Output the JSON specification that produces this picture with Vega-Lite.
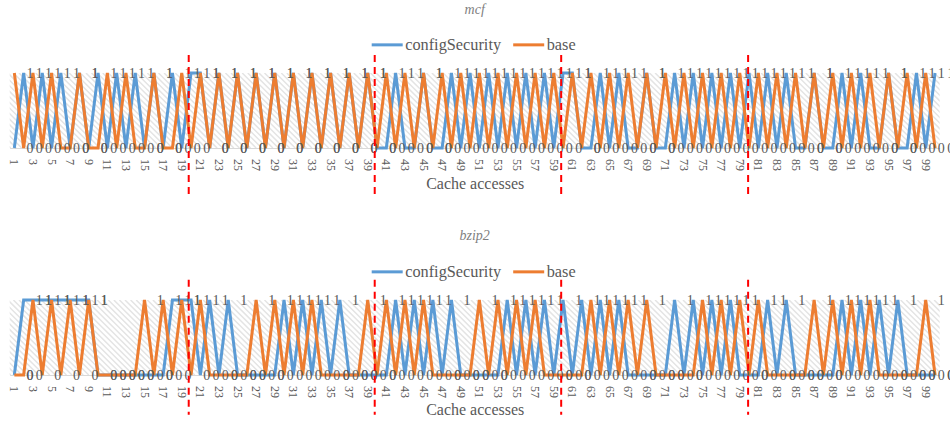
{"$schema":"https://vega.github.io/schema/vega-lite/v6.json","background":"white","padding":{"left":7.7,"top":2,"right":0,"bottom":0},"spacing":32,
"config":{"view":{"stroke":null},"font":"Liberation Serif","title":{"font":"Liberation Serif","fontStyle":"italic","fontWeight":"normal","fontSize":14,"color":"#7f7f7f"},"axisX":{"labels":false,"titleFont":"Liberation Serif","ticks":false,"grid":false,"domainColor":"#d9d9d9","titleFontSize":16,"titleFontWeight":"normal","titleColor":"#595959","titlePadding":27},"legend":{"labelFont":"Liberation Serif"}},
"resolve":{"scale":{"color":"independent"}},
"datasets":{
"ticks":[{"t":1},{"t":3},{"t":5},{"t":7},{"t":9},{"t":11},{"t":13},{"t":15},{"t":17},{"t":19},{"t":21},{"t":23},{"t":25},{"t":27},{"t":29},{"t":31},{"t":33},{"t":35},{"t":37},{"t":39},{"t":41},{"t":43},{"t":45},{"t":47},{"t":49},{"t":51},{"t":53},{"t":55},{"t":57},{"t":59},{"t":61},{"t":63},{"t":65},{"t":67},{"t":69},{"t":71},{"t":73},{"t":75},{"t":77},{"t":79},{"t":81},{"t":83},{"t":85},{"t":87},{"t":89},{"t":91},{"t":93},{"t":95},{"t":97},{"t":99}],
"hatch":[{"a":-8.1,"b":0},{"a":-7.5,"b":0.6},{"a":-6.9,"b":1.2},{"a":-6.3,"b":1.8},{"a":-5.7,"b":2.4},{"a":-5.1,"b":3},{"a":-4.5,"b":3.6},{"a":-3.9,"b":4.2},{"a":-3.3,"b":4.8},{"a":-2.7,"b":5.4},{"a":-2.1,"b":6},{"a":-1.5,"b":6.6},{"a":-0.9,"b":7.2},{"a":-0.3,"b":7.8},{"a":0.3,"b":8.4},{"a":0.9,"b":9},{"a":1.5,"b":9.6},{"a":2.1,"b":10.2},{"a":2.7,"b":10.8},{"a":3.3,"b":11.4},{"a":3.9,"b":12},{"a":4.5,"b":12.6},{"a":5.1,"b":13.2},{"a":5.7,"b":13.8},{"a":6.3,"b":14.4},{"a":6.9,"b":15},{"a":7.5,"b":15.6},{"a":8.1,"b":16.2},{"a":8.7,"b":16.8},{"a":9.3,"b":17.4},{"a":9.9,"b":18},{"a":10.5,"b":18.6},{"a":11.1,"b":19.2},{"a":11.7,"b":19.8},{"a":12.3,"b":20.4},{"a":12.9,"b":21},{"a":13.5,"b":21.6},{"a":14.1,"b":22.2},{"a":14.7,"b":22.8},{"a":15.3,"b":23.4},{"a":15.9,"b":24},{"a":16.5,"b":24.6},{"a":17.1,"b":25.2},{"a":17.7,"b":25.8},{"a":18.3,"b":26.4},{"a":18.9,"b":27},{"a":19.5,"b":27.6},{"a":20.1,"b":28.2},{"a":20.7,"b":28.8},{"a":21.3,"b":29.4},{"a":21.9,"b":30},{"a":22.5,"b":30.6},{"a":23.1,"b":31.2},{"a":23.7,"b":31.8},{"a":24.3,"b":32.4},{"a":24.9,"b":33},{"a":25.5,"b":33.6},{"a":26.1,"b":34.2},{"a":26.7,"b":34.8},{"a":27.3,"b":35.4},{"a":27.9,"b":36},{"a":28.5,"b":36.6},{"a":29.1,"b":37.2},{"a":29.7,"b":37.8},{"a":30.3,"b":38.4},{"a":30.9,"b":39},{"a":31.5,"b":39.6},{"a":32.1,"b":40.2},{"a":32.7,"b":40.8},{"a":33.3,"b":41.4},{"a":33.9,"b":42},{"a":34.5,"b":42.6},{"a":35.1,"b":43.2},{"a":35.7,"b":43.8},{"a":36.3,"b":44.4},{"a":36.9,"b":45},{"a":37.5,"b":45.6},{"a":38.1,"b":46.2},{"a":38.7,"b":46.8},{"a":39.3,"b":47.4},{"a":39.9,"b":48},{"a":40.5,"b":48.6},{"a":41.1,"b":49.2},{"a":41.7,"b":49.8},{"a":42.3,"b":50.4},{"a":42.9,"b":51},{"a":43.5,"b":51.6},{"a":44.1,"b":52.2},{"a":44.7,"b":52.8},{"a":45.3,"b":53.4},{"a":45.9,"b":54},{"a":46.5,"b":54.6},{"a":47.1,"b":55.2},{"a":47.7,"b":55.8},{"a":48.3,"b":56.4},{"a":48.9,"b":57},{"a":49.5,"b":57.6},{"a":50.1,"b":58.2},{"a":50.7,"b":58.8},{"a":51.3,"b":59.4},{"a":51.9,"b":60},{"a":52.5,"b":60.6},{"a":53.1,"b":61.2},{"a":53.7,"b":61.8},{"a":54.3,"b":62.4},{"a":54.9,"b":63},{"a":55.5,"b":63.6},{"a":56.1,"b":64.2},{"a":56.7,"b":64.8},{"a":57.3,"b":65.4},{"a":57.9,"b":66},{"a":58.5,"b":66.6},{"a":59.1,"b":67.2},{"a":59.7,"b":67.8},{"a":60.3,"b":68.4},{"a":60.9,"b":69},{"a":61.5,"b":69.6},{"a":62.1,"b":70.2},{"a":62.7,"b":70.8},{"a":63.3,"b":71.4},{"a":63.9,"b":72},{"a":64.5,"b":72.6},{"a":65.1,"b":73.2},{"a":65.7,"b":73.8},{"a":66.3,"b":74.4},{"a":66.9,"b":75},{"a":67.5,"b":75.6},{"a":68.1,"b":76.2},{"a":68.7,"b":76.8},{"a":69.3,"b":77.4},{"a":69.9,"b":78},{"a":70.5,"b":78.6},{"a":71.1,"b":79.2},{"a":71.7,"b":79.8},{"a":72.3,"b":80.4},{"a":72.9,"b":81},{"a":73.5,"b":81.6},{"a":74.1,"b":82.2},{"a":74.7,"b":82.8},{"a":75.3,"b":83.4},{"a":75.9,"b":84},{"a":76.5,"b":84.6},{"a":77.1,"b":85.2},{"a":77.7,"b":85.8},{"a":78.3,"b":86.4},{"a":78.9,"b":87},{"a":79.5,"b":87.6},{"a":80.1,"b":88.2},{"a":80.7,"b":88.8},{"a":81.3,"b":89.4},{"a":81.9,"b":90},{"a":82.5,"b":90.6},{"a":83.1,"b":91.2},{"a":83.7,"b":91.8},{"a":84.3,"b":92.4},{"a":84.9,"b":93},{"a":85.5,"b":93.6},{"a":86.1,"b":94.2},{"a":86.7,"b":94.8},{"a":87.3,"b":95.4},{"a":87.9,"b":96},{"a":88.5,"b":96.6},{"a":89.1,"b":97.2},{"a":89.7,"b":97.8},{"a":90.3,"b":98.4},{"a":90.9,"b":99},{"a":91.5,"b":99.6},{"a":92.1,"b":100.2},{"a":92.7,"b":100.8},{"a":93.3,"b":101.4},{"a":93.9,"b":102},{"a":94.5,"b":102.6},{"a":95.1,"b":103.2},{"a":95.7,"b":103.8},{"a":96.3,"b":104.4},{"a":96.9,"b":105},{"a":97.5,"b":105.6},{"a":98.1,"b":106.2},{"a":98.7,"b":106.8},{"a":99.3,"b":107.4},{"a":99.9,"b":108}],
"marks":[{"x":19.75},{"x":39.75},{"x":59.8},{"x":79.9}],
"mcf":[{"i":1,"configSecurity":0,"base":1},{"i":2,"configSecurity":1,"base":0},{"i":3,"configSecurity":0,"base":1},{"i":4,"configSecurity":1,"base":0},{"i":5,"configSecurity":0,"base":1},{"i":6,"configSecurity":1,"base":0},{"i":7,"configSecurity":0,"base":0},{"i":8,"configSecurity":1,"base":1},{"i":9,"configSecurity":0,"base":0},{"i":10,"configSecurity":1,"base":0},{"i":11,"configSecurity":0,"base":1},{"i":12,"configSecurity":1,"base":0},{"i":13,"configSecurity":0,"base":1},{"i":14,"configSecurity":1,"base":0},{"i":15,"configSecurity":0,"base":0},{"i":16,"configSecurity":1,"base":1},{"i":17,"configSecurity":0,"base":0},{"i":18,"configSecurity":1,"base":0},{"i":19,"configSecurity":0,"base":1},{"i":20,"configSecurity":1,"base":0},{"i":21,"configSecurity":1,"base":1},{"i":22,"configSecurity":0,"base":0},{"i":23,"configSecurity":1,"base":1},{"i":24,"configSecurity":0,"base":0},{"i":25,"configSecurity":1,"base":1},{"i":26,"configSecurity":0,"base":0},{"i":27,"configSecurity":1,"base":1},{"i":28,"configSecurity":0,"base":0},{"i":29,"configSecurity":1,"base":1},{"i":30,"configSecurity":0,"base":0},{"i":31,"configSecurity":1,"base":1},{"i":32,"configSecurity":0,"base":0},{"i":33,"configSecurity":1,"base":1},{"i":34,"configSecurity":0,"base":0},{"i":35,"configSecurity":1,"base":1},{"i":36,"configSecurity":0,"base":0},{"i":37,"configSecurity":1,"base":1},{"i":38,"configSecurity":0,"base":0},{"i":39,"configSecurity":1,"base":1},{"i":40,"configSecurity":0,"base":0},{"i":41,"configSecurity":0,"base":1},{"i":42,"configSecurity":1,"base":0},{"i":43,"configSecurity":0,"base":1},{"i":44,"configSecurity":0,"base":0},{"i":45,"configSecurity":1,"base":1},{"i":46,"configSecurity":0,"base":0},{"i":47,"configSecurity":0,"base":1},{"i":48,"configSecurity":1,"base":0},{"i":49,"configSecurity":0,"base":1},{"i":50,"configSecurity":1,"base":0},{"i":51,"configSecurity":0,"base":1},{"i":52,"configSecurity":1,"base":0},{"i":53,"configSecurity":0,"base":1},{"i":54,"configSecurity":1,"base":0},{"i":55,"configSecurity":0,"base":1},{"i":56,"configSecurity":1,"base":0},{"i":57,"configSecurity":0,"base":1},{"i":58,"configSecurity":1,"base":0},{"i":59,"configSecurity":0,"base":1},{"i":60,"configSecurity":1,"base":0},{"i":61,"configSecurity":1,"base":1},{"i":62,"configSecurity":0,"base":0},{"i":63,"configSecurity":0,"base":1},{"i":64,"configSecurity":1,"base":0},{"i":65,"configSecurity":0,"base":1},{"i":66,"configSecurity":1,"base":0},{"i":67,"configSecurity":0,"base":1},{"i":68,"configSecurity":0,"base":0},{"i":69,"configSecurity":1,"base":1},{"i":70,"configSecurity":0,"base":0},{"i":71,"configSecurity":0,"base":1},{"i":72,"configSecurity":1,"base":0},{"i":73,"configSecurity":0,"base":1},{"i":74,"configSecurity":1,"base":0},{"i":75,"configSecurity":0,"base":1},{"i":76,"configSecurity":1,"base":0},{"i":77,"configSecurity":0,"base":1},{"i":78,"configSecurity":1,"base":0},{"i":79,"configSecurity":0,"base":1},{"i":80,"configSecurity":1,"base":0},{"i":81,"configSecurity":0,"base":1},{"i":82,"configSecurity":1,"base":0},{"i":83,"configSecurity":0,"base":1},{"i":84,"configSecurity":1,"base":0},{"i":85,"configSecurity":0,"base":1},{"i":86,"configSecurity":0,"base":0},{"i":87,"configSecurity":1,"base":1},{"i":88,"configSecurity":0,"base":0},{"i":89,"configSecurity":0,"base":1},{"i":90,"configSecurity":1,"base":0},{"i":91,"configSecurity":0,"base":1},{"i":92,"configSecurity":1,"base":0},{"i":93,"configSecurity":0,"base":1},{"i":94,"configSecurity":0,"base":0},{"i":95,"configSecurity":1,"base":1},{"i":96,"configSecurity":0,"base":0},{"i":97,"configSecurity":0,"base":1},{"i":98,"configSecurity":1,"base":0},{"i":99,"configSecurity":0,"base":1},{"i":100,"configSecurity":1,"base":0}],
"bzip2":[{"i":1,"configSecurity":0,"base":0},{"i":2,"configSecurity":1,"base":0},{"i":3,"configSecurity":1,"base":1},{"i":4,"configSecurity":1,"base":0},{"i":5,"configSecurity":1,"base":1},{"i":6,"configSecurity":1,"base":0},{"i":7,"configSecurity":1,"base":1},{"i":8,"configSecurity":1,"base":0},{"i":9,"configSecurity":1,"base":1},{"i":10,"configSecurity":0,"base":0},{"i":11,"configSecurity":0,"base":0},{"i":12,"configSecurity":0,"base":0},{"i":13,"configSecurity":0,"base":0},{"i":14,"configSecurity":0,"base":0},{"i":15,"configSecurity":0,"base":1},{"i":16,"configSecurity":0,"base":0},{"i":17,"configSecurity":0,"base":1},{"i":18,"configSecurity":1,"base":0},{"i":19,"configSecurity":1,"base":1},{"i":20,"configSecurity":1,"base":0},{"i":21,"configSecurity":0,"base":1},{"i":22,"configSecurity":1,"base":0},{"i":23,"configSecurity":0,"base":0},{"i":24,"configSecurity":1,"base":0},{"i":25,"configSecurity":0,"base":0},{"i":26,"configSecurity":0,"base":0},{"i":27,"configSecurity":0,"base":1},{"i":28,"configSecurity":0,"base":0},{"i":29,"configSecurity":0,"base":1},{"i":30,"configSecurity":1,"base":0},{"i":31,"configSecurity":0,"base":1},{"i":32,"configSecurity":1,"base":0},{"i":33,"configSecurity":0,"base":1},{"i":34,"configSecurity":1,"base":0},{"i":35,"configSecurity":0,"base":0},{"i":36,"configSecurity":1,"base":0},{"i":37,"configSecurity":0,"base":0},{"i":38,"configSecurity":0,"base":0},{"i":39,"configSecurity":0,"base":1},{"i":40,"configSecurity":0,"base":0},{"i":41,"configSecurity":0,"base":1},{"i":42,"configSecurity":1,"base":0},{"i":43,"configSecurity":0,"base":1},{"i":44,"configSecurity":1,"base":0},{"i":45,"configSecurity":0,"base":1},{"i":46,"configSecurity":1,"base":0},{"i":47,"configSecurity":0,"base":0},{"i":48,"configSecurity":1,"base":0},{"i":49,"configSecurity":0,"base":0},{"i":50,"configSecurity":0,"base":0},{"i":51,"configSecurity":0,"base":1},{"i":52,"configSecurity":0,"base":0},{"i":53,"configSecurity":0,"base":1},{"i":54,"configSecurity":1,"base":0},{"i":55,"configSecurity":0,"base":1},{"i":56,"configSecurity":1,"base":0},{"i":57,"configSecurity":0,"base":1},{"i":58,"configSecurity":1,"base":0},{"i":59,"configSecurity":0,"base":0},{"i":60,"configSecurity":1,"base":0},{"i":61,"configSecurity":0,"base":0},{"i":62,"configSecurity":1,"base":0},{"i":63,"configSecurity":0,"base":1},{"i":64,"configSecurity":1,"base":0},{"i":65,"configSecurity":0,"base":1},{"i":66,"configSecurity":1,"base":0},{"i":67,"configSecurity":0,"base":1},{"i":68,"configSecurity":0,"base":0},{"i":69,"configSecurity":0,"base":1},{"i":70,"configSecurity":0,"base":0},{"i":71,"configSecurity":0,"base":0},{"i":72,"configSecurity":1,"base":0},{"i":73,"configSecurity":0,"base":0},{"i":74,"configSecurity":1,"base":0},{"i":75,"configSecurity":0,"base":1},{"i":76,"configSecurity":1,"base":0},{"i":77,"configSecurity":0,"base":1},{"i":78,"configSecurity":1,"base":0},{"i":79,"configSecurity":0,"base":1},{"i":80,"configSecurity":0,"base":0},{"i":81,"configSecurity":0,"base":1},{"i":82,"configSecurity":1,"base":0},{"i":83,"configSecurity":0,"base":0},{"i":84,"configSecurity":1,"base":0},{"i":85,"configSecurity":0,"base":0},{"i":86,"configSecurity":0,"base":0},{"i":87,"configSecurity":0,"base":1},{"i":88,"configSecurity":0,"base":0},{"i":89,"configSecurity":0,"base":1},{"i":90,"configSecurity":1,"base":0},{"i":91,"configSecurity":0,"base":1},{"i":92,"configSecurity":1,"base":0},{"i":93,"configSecurity":0,"base":1},{"i":94,"configSecurity":1,"base":0},{"i":95,"configSecurity":0,"base":0},{"i":96,"configSecurity":1,"base":0},{"i":97,"configSecurity":0,"base":0},{"i":98,"configSecurity":0,"base":0},{"i":99,"configSecurity":0,"base":1},{"i":100,"configSecurity":0,"base":0}]
},
"vconcat":[
{"width":930,"height":75,"title":{"text":"mcf","anchor":"middle","offset":11},
"layer":[
{"data":{"name":"hatch"},"mark":{"type":"rule","stroke":"#e4e4e4","strokeWidth":1.5,"clip":true},"encoding":{"x":{"field":"a","type":"quantitative","scale":{"domain":[0.5,100.5],"nice":false,"zero":false},"axis":{"title":"Cache accesses"}},"x2":{"field":"b"},"y":{"datum":1,"type":"quantitative","scale":{"domain":[0,1],"nice":false,"zero":false},"axis":null},"y2":{"datum":0}}},
{"data":{"name":"mcf"},"transform":[{"fold":["configSecurity","base"],"as":["series","v"]}],"layer":[
{"mark":{"type":"line","strokeWidth":3,"interpolate":"linear"},"encoding":{"x":{"field":"i","type":"quantitative","axis":{"title":"Cache accesses"}},"y":{"field":"v","type":"quantitative","axis":null},"color":{"field":"series","type":"nominal","sort":null,"scale":{"domain":["configSecurity","base"],"range":["#5B9BD5","#ED7D31"]},"legend":{"orient":"none","legendX":360.5,"legendY":-45.5,"title":null,"columns":2,"direction":"horizontal","symbolType":"stroke","symbolSize":961,"symbolStrokeWidth":3,"labelFontSize":16.3,"labelColor":"#595959","labelOffset":1,"columnPadding":5.5}}}},
{"mark":{"type":"text","font":"Liberation Serif","fontSize":14,"color":"#595959","dx":15.6,"dy":1,"baseline":"middle"},"encoding":{"x":{"field":"i","type":"quantitative","axis":{"title":"Cache accesses"}},"y":{"field":"v","type":"quantitative","axis":null},"text":{"field":"v","type":"quantitative"}}}
]},
{"data":{"name":"ticks"},"mark":{"type":"text","font":"Liberation Serif","fontSize":12,"color":"#595959","angle":90,"align":"left","baseline":"middle","dx":11},"encoding":{"x":{"field":"t","type":"quantitative","axis":{"title":"Cache accesses"}},"y":{"datum":0,"type":"quantitative","axis":null},"text":{"field":"t","type":"quantitative"}}},
{"data":{"name":"marks"},"mark":{"type":"rule","stroke":"#ff0000","strokeWidth":2,"strokeDash":[7,5]},"encoding":{"x":{"field":"x","type":"quantitative","axis":{"title":"Cache accesses"}},"y":{"datum":1.24,"type":"quantitative","axis":null},"y2":{"datum":-0.63}}}
]},
{"width":930,"height":75,"title":{"text":"bzip2","anchor":"middle","offset":11},
"layer":[
{"data":{"name":"hatch"},"mark":{"type":"rule","stroke":"#e4e4e4","strokeWidth":1.5,"clip":true},"encoding":{"x":{"field":"a","type":"quantitative","scale":{"domain":[0.5,100.5],"nice":false,"zero":false},"axis":{"title":"Cache accesses"}},"x2":{"field":"b"},"y":{"datum":1,"type":"quantitative","scale":{"domain":[0,1],"nice":false,"zero":false},"axis":null},"y2":{"datum":0}}},
{"data":{"name":"bzip2"},"transform":[{"fold":["configSecurity","base"],"as":["series","v"]}],"layer":[
{"mark":{"type":"line","strokeWidth":3,"interpolate":"linear"},"encoding":{"x":{"field":"i","type":"quantitative","axis":{"title":"Cache accesses"}},"y":{"field":"v","type":"quantitative","axis":null},"color":{"field":"series","type":"nominal","sort":null,"scale":{"domain":["configSecurity","base"],"range":["#5B9BD5","#ED7D31"]},"legend":{"orient":"none","legendX":360.5,"legendY":-45.5,"title":null,"columns":2,"direction":"horizontal","symbolType":"stroke","symbolSize":961,"symbolStrokeWidth":3,"labelFontSize":16.3,"labelColor":"#595959","labelOffset":1,"columnPadding":5.5}}}},
{"mark":{"type":"text","font":"Liberation Serif","fontSize":14,"color":"#595959","dx":15.6,"dy":1,"baseline":"middle"},"encoding":{"x":{"field":"i","type":"quantitative","axis":{"title":"Cache accesses"}},"y":{"field":"v","type":"quantitative","axis":null},"text":{"field":"v","type":"quantitative"}}}
]},
{"data":{"name":"ticks"},"mark":{"type":"text","font":"Liberation Serif","fontSize":12,"color":"#595959","angle":90,"align":"left","baseline":"middle","dx":11},"encoding":{"x":{"field":"t","type":"quantitative","axis":{"title":"Cache accesses"}},"y":{"datum":0,"type":"quantitative","axis":null},"text":{"field":"t","type":"quantitative"}}},
{"data":{"name":"marks"},"mark":{"type":"rule","stroke":"#ff0000","strokeWidth":2,"strokeDash":[7,5]},"encoding":{"x":{"field":"x","type":"quantitative","axis":{"title":"Cache accesses"}},"y":{"datum":1.27,"type":"quantitative","axis":null},"y2":{"datum":-0.53}}}
]}
]}
